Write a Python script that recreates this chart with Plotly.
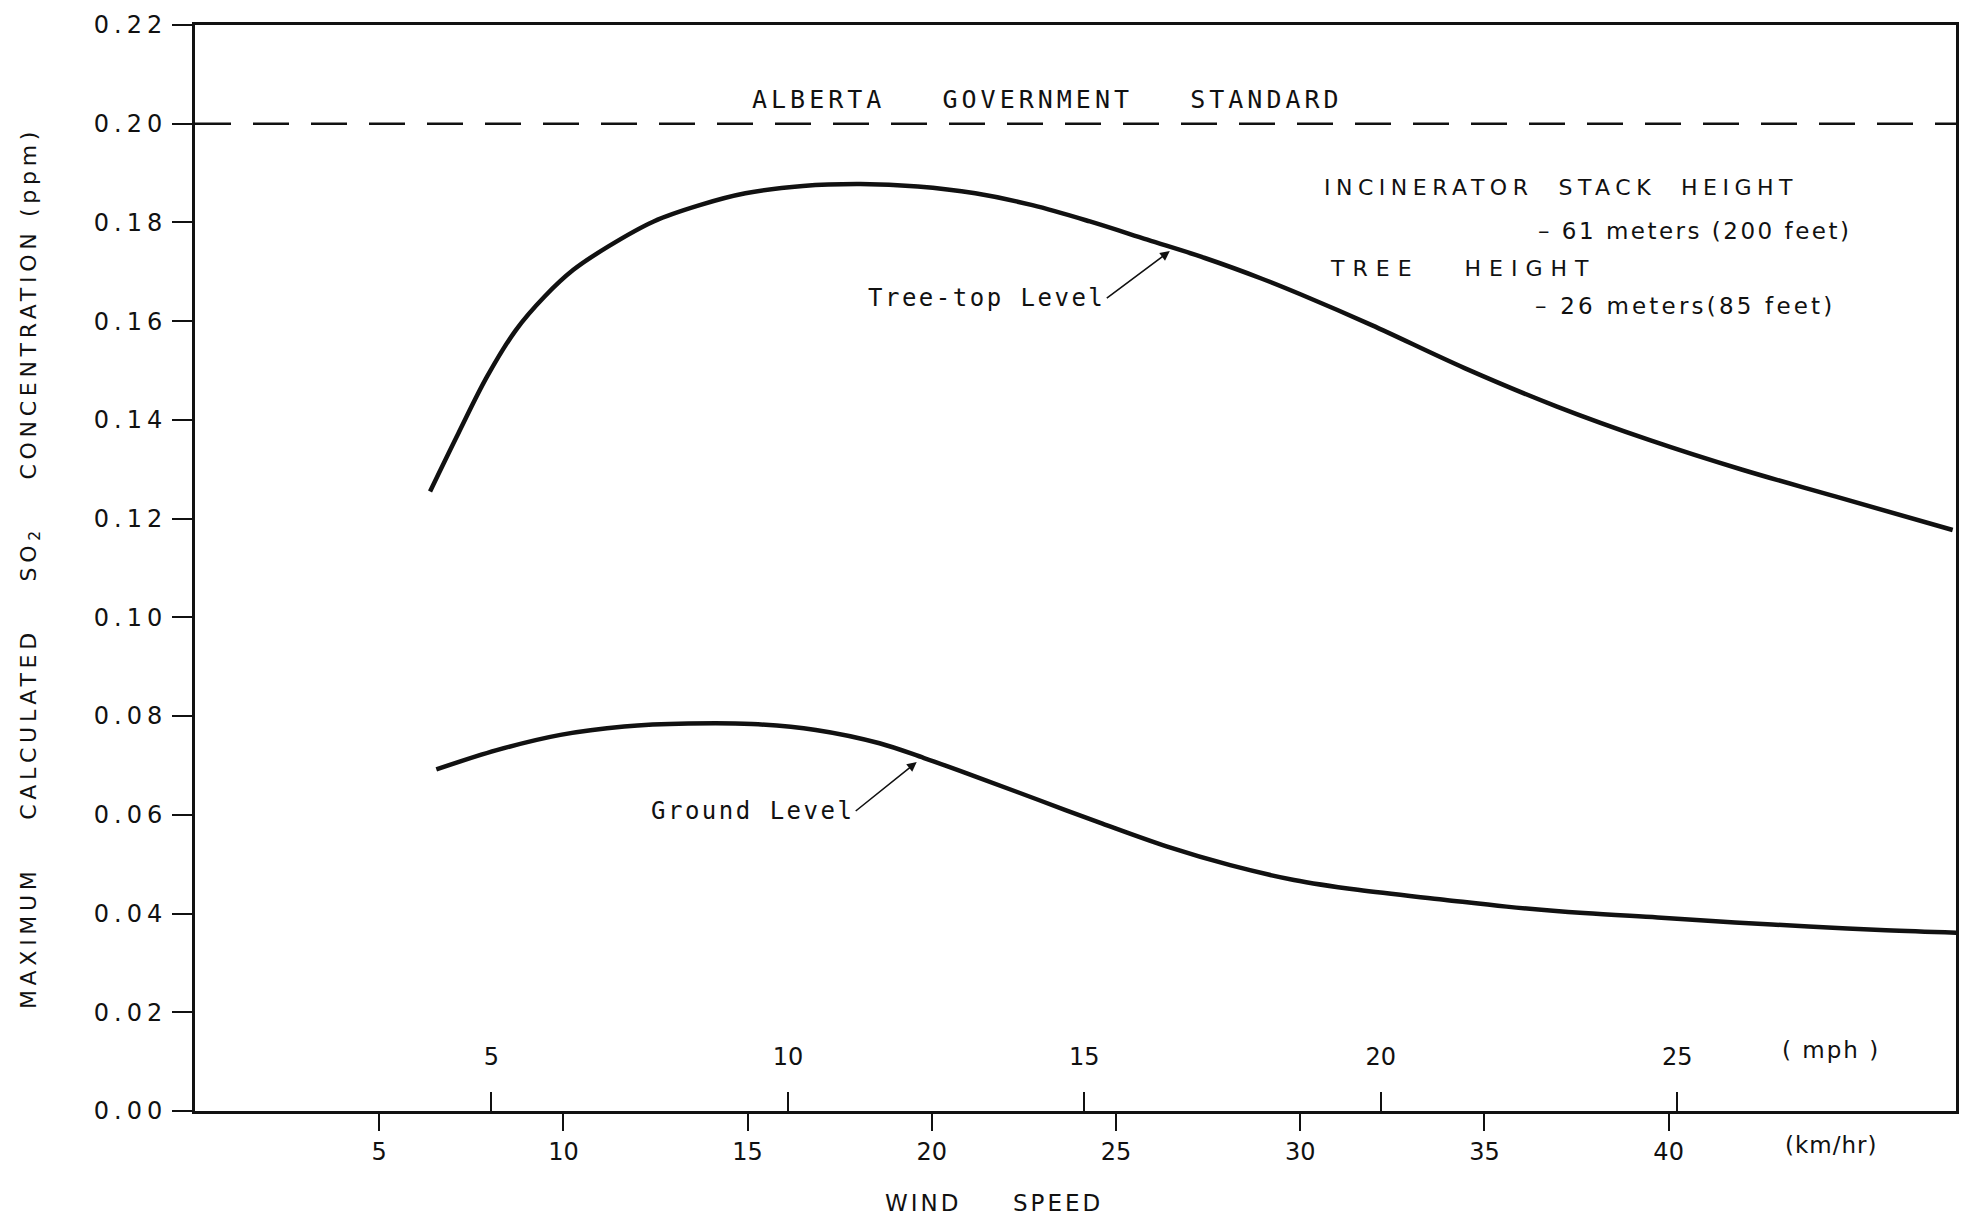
import plotly.graph_objects as go

# ---- data (wind speed in km/hr, concentration in ppm) ----
tree_top_kmh = [6.38, 7.15, 7.93, 8.71, 9.49, 10.27, 11.21, 12.45, 13.70, 14.94, 16.50, 18.06,
                19.62, 21.18, 22.73, 24.29, 25.85, 27.41, 28.96, 30.02, 31.94, 34.46, 36.97,
                39.49, 42.00, 44.52, 47.71]
tree_top_ppm = [0.1255, 0.1373, 0.1488, 0.1582, 0.1650, 0.1704, 0.1751, 0.1802, 0.1835, 0.1859,
                0.1874, 0.1878, 0.1873, 0.1859, 0.1835, 0.1802, 0.1765, 0.1728, 0.1686, 0.1654,
                0.1592, 0.1505, 0.1427, 0.1359, 0.1299, 0.1245, 0.1177]

ground_kmh = [6.55, 8.19, 9.92, 11.65, 13.39, 15.12, 16.85, 18.58, 19.79, 21.17, 22.90, 24.63,
              26.37, 28.10, 29.83, 31.56, 33.9, 35.6, 37.7, 39.7, 41.8, 43.8, 45.9, 47.9]
ground_ppm = [0.0692, 0.0731, 0.0762, 0.0779, 0.0785, 0.0784, 0.0772, 0.0745, 0.0715, 0.0678,
              0.0630, 0.0582, 0.0536, 0.0498, 0.0468, 0.0448, 0.0428, 0.0414, 0.0401, 0.0392,
              0.0382, 0.0374, 0.0366, 0.0361]

standard_ppm = 0.20
kmh_ticks = [5, 10, 15, 20, 25, 30, 35, 40]
mph_ticks = [5, 10, 15, 20, 25]
y_ticks = [0.00, 0.02, 0.04, 0.06, 0.08, 0.10, 0.12, 0.14, 0.16, 0.18, 0.20, 0.22]
KM_PER_MILE = 1.609344
x_max_kmh = 47.8
y_max = 0.22

BLACK = "#111111"
SANS = "DejaVu Sans"
MONO = "DejaVu Sans Mono"


def ls(txt, sp):
    return f'<span style="letter-spacing:{sp}px">{txt}</span>'


fig = go.Figure()
fig.add_trace(go.Scatter(x=tree_top_kmh, y=tree_top_ppm, mode="lines", name="Tree-top Level",
                         line=dict(color=BLACK, width=4.5, shape="spline", smoothing=1.0),
                         showlegend=False))
fig.add_trace(go.Scatter(x=ground_kmh, y=ground_ppm, mode="lines", name="Ground Level",
                         line=dict(color=BLACK, width=4.5, shape="spline", smoothing=1.0),
                         showlegend=False))
# invisible trace to activate the mph axis
fig.add_trace(go.Scatter(x=[0, x_max_kmh / KM_PER_MILE], y=[None, None], xaxis="x2",
                         mode="lines", showlegend=False, hoverinfo="skip"))

fig.add_hline(y=standard_ppm, line=dict(color=BLACK, width=2.5, dash="36px,22px"))

ann = []
ann.append(dict(x=23.15, y=standard_ppm, xref="x", yref="y", yanchor="middle", yshift=24,
                text=ls("ALBERTA\u00a0\u00a0\u00a0GOVERNMENT\u00a0\u00a0\u00a0STANDARD", 4),
                font=dict(family=MONO, size=25, color=BLACK), showarrow=False))
ann.append(dict(x=30.6, y=0.1870, xref="x", yref="y", xanchor="left", yanchor="middle",
                text=ls("INCINERATOR\u00a0\u00a0STACK\u00a0\u00a0HEIGHT", 5.5),
                font=dict(family=SANS, size=22, color=BLACK), showarrow=False))
ann.append(dict(x=45.0, y=0.1783, xref="x", yref="y", xanchor="right", yanchor="middle",
                text=ls("\u2013 61 meters (200 feet)", 2.5),
                font=dict(family=SANS, size=23, color=BLACK), showarrow=False))
ann.append(dict(x=30.75, y=0.1706, xref="x", yref="y", xanchor="left", yanchor="middle",
                text=ls("TREE\u00a0\u00a0\u00a0HEIGHT", 8),
                font=dict(family=SANS, size=22, color=BLACK), showarrow=False))
ann.append(dict(x=44.6, y=0.1631, xref="x", yref="y", xanchor="right", yanchor="middle",
                text=ls("\u2013 26 meters(85 feet)", 3.2),
                font=dict(family=SANS, size=23, color=BLACK), showarrow=False))
ann.append(dict(x=26.46, y=0.1742, xref="x", yref="y", ax=-63, ay=47, xanchor="right",
                text=ls("Tree-top Level", 2.5), font=dict(family=MONO, size=24, color=BLACK),
                showarrow=True, arrowhead=2, arrowsize=1.2, arrowwidth=1.6, arrowcolor=BLACK))
ann.append(dict(x=19.59, y=0.0707, xref="x", yref="y", ax=-61, ay=49, xanchor="right",
                text=ls("Ground Level", 2.5), font=dict(family=MONO, size=24, color=BLACK),
                showarrow=True, arrowhead=2, arrowsize=1.2, arrowwidth=1.6, arrowcolor=BLACK))
ann.append(dict(x=44.4, y=0.0124, xref="x", yref="y", yanchor="middle", text=ls("( mph )", 2),
                font=dict(family=SANS, size=23, color=BLACK), showarrow=False))
ann.append(dict(x=44.4, y=-0.0313, xref="x", yref="paper", yanchor="middle",
                text=ls("(km/hr)", 1), font=dict(family=SANS, size=23, color=BLACK),
                showarrow=False))
ann.append(dict(x=0.454, y=-0.0847, xref="paper", yref="paper", yanchor="middle",
                text=ls("WIND\u00a0\u00a0\u00a0\u00a0\u00a0SPEED", 3),
                font=dict(family=SANS, size=23, color=BLACK), showarrow=False))

y_ticktext = [ls(f"{v:.2f}", 5) for v in y_ticks]

fig.update_layout(
    width=1969, height=1220,
    margin=dict(l=187, r=21, t=17, b=117),
    paper_bgcolor="white", plot_bgcolor="white",
    font=dict(family=SANS, color=BLACK),
    annotations=ann,
    xaxis=dict(range=[0, x_max_kmh], tickvals=kmh_ticks, ticks="outside", ticklen=17,
               tickwidth=2, tickcolor=BLACK, showline=True, linecolor=BLACK, linewidth=3,
               mirror=True, showgrid=False, zeroline=False, automargin=False,
               tickfont=dict(family=SANS, size=24, color=BLACK)),
    xaxis2=dict(range=[0, x_max_kmh / KM_PER_MILE], overlaying="x", anchor="free",
                position=0, side="top", tickvals=mph_ticks, ticks="outside", ticklen=19,
                tickwidth=2, tickcolor=BLACK, ticklabelstandoff=17, showline=False,
                showgrid=False, zeroline=False, automargin=False,
                tickfont=dict(family=SANS, size=24, color=BLACK)),
    yaxis=dict(range=[-1e-6, y_max], tickvals=y_ticks, ticktext=y_ticktext, ticks="outside",
               ticklen=20, tickwidth=2, tickcolor=BLACK, showline=True, linecolor=BLACK,
               linewidth=3, mirror=True, showgrid=False, zeroline=False, automargin=False,
               tickfont=dict(family=SANS, size=24, color=BLACK),
               title=dict(text=ls("MAXIMUM\u00a0\u00a0\u00a0\u00a0CALCULATED\u00a0\u00a0\u00a0\u00a0SO<sub>2</sub>\u00a0\u00a0\u00a0\u00a0CONCENTRATION\u00a0(ppm)", 4.7),
                          font=dict(family=SANS, size=22, color=BLACK), standoff=52)),
)

fig.write_html("out.html")
